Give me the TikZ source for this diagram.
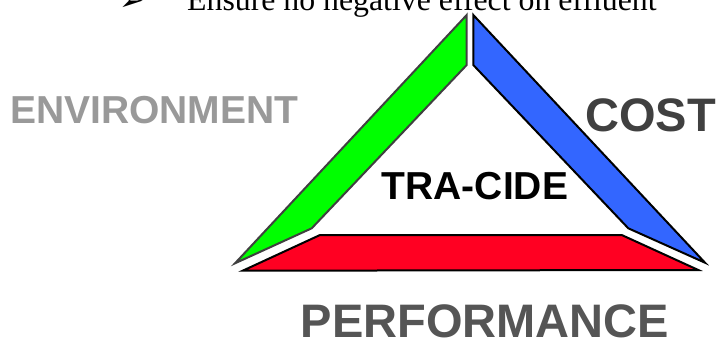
\documentclass[tikz,border=0pt]{standalone}
\usepackage{fontspec}
\setmainfont{Liberation Serif}
\setsansfont{Liberation Sans}
\newfontfamily\symfont{DejaVu Sans}
\definecolor{envgreen}{HTML}{00FF00}
\definecolor{costblue}{HTML}{3366FF}
\definecolor{perfred}{HTML}{FF0022}
\definecolor{envgray}{HTML}{999999}
\definecolor{costgray}{HTML}{404040}
\definecolor{perfgray}{HTML}{555555}
\newcommand{\labelfont}[1]{\fontsize{#1}{#1}\sffamily\bfseries\selectfont}
\tikzset{
    label/.style={inner sep=0pt},
}
\begin{document}
\begin{tikzpicture}[x=1pt, y=-1pt, line join=miter]
    \useasboundingbox (0, 0) rectangle (720, 338);
    % bullet line at the top
    \node[inner sep=0pt, anchor=base east, font=\fontsize{30}{32}\selectfont\symfont] (bullet) at (145, 10) {➢};
    \node[inner sep=0pt, anchor=base west, font=\fontsize{31.8}{34}\selectfont] (goal) at (187, 10) {Ensure no negative effect on effluent};
    % the three sides
    \filldraw[line width=2pt, draw=costgray, fill=envgreen] (466.7, 15) -- (466.7, 65) -- (311.7, 228.3) -- (235, 263.3) -- cycle;
    \filldraw[line width=2pt, fill=costblue] (473.3, 15) -- (473.3, 65) -- (628.3, 228.3) -- (705, 262.7) -- cycle;
    \filldraw[line width=2pt, fill=perfred] (242.7, 270.7) -- (320, 235) -- (621.7, 235) -- (698.3, 270) -- cycle;
    % labels
    \node[label, text=envgray, anchor=base west, font=\labelfont{39}] (env) at (10, 123) {ENVIRONMENT};
    \node[label, text=costgray, anchor=base west, font=\labelfont{47}] (cost) at (585, 131) {COST};
    \node[label, text=black, anchor=base, font=\labelfont{39}] (core) at (475, 199) {TRA-CIDE};
    \node[label, text=perfgray, anchor=base, font=\labelfont{47}] (perf) at (485, 337) {PERFORMANCE};
\end{tikzpicture}
\end{document}
